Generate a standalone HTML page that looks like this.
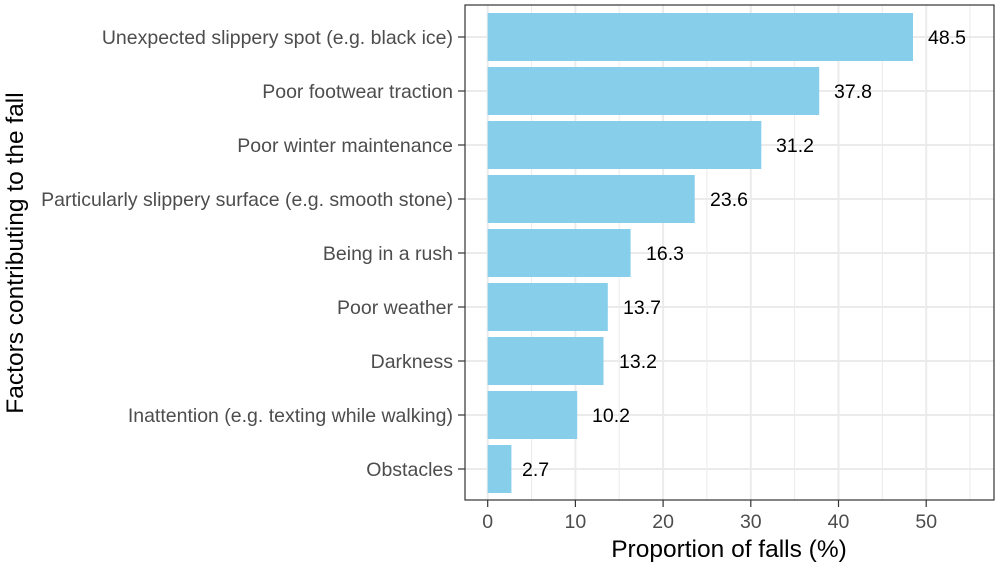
<!DOCTYPE html>
<html><head><meta charset="utf-8"><style>body{margin:0;background:#fff}svg{display:block}</style></head><body>
<svg width="1000" height="562" xmlns="http://www.w3.org/2000/svg" font-family="Liberation Sans, sans-serif">
<rect x="465" y="5" width="529" height="495" fill="#fff"/>
<g stroke="#ebebeb" stroke-width="1">
<line x1="531.5" y1="5" x2="531.5" y2="500"/><line x1="619.2" y1="5" x2="619.2" y2="500"/><line x1="706.9" y1="5" x2="706.9" y2="500"/><line x1="794.6" y1="5" x2="794.6" y2="500"/><line x1="882.3" y1="5" x2="882.3" y2="500"/><line x1="970" y1="5" x2="970" y2="500"/>
</g>
<g stroke="#ebebeb" stroke-width="2">
<line x1="487.7" y1="5" x2="487.7" y2="500"/><line x1="575.4" y1="5" x2="575.4" y2="500"/><line x1="663.1" y1="5" x2="663.1" y2="500"/><line x1="750.8" y1="5" x2="750.8" y2="500"/><line x1="838.5" y1="5" x2="838.5" y2="500"/><line x1="926.2" y1="5" x2="926.2" y2="500"/>
<line x1="465" y1="37" x2="994" y2="37"/><line x1="465" y1="91" x2="994" y2="91"/><line x1="465" y1="145" x2="994" y2="145"/><line x1="465" y1="199" x2="994" y2="199"/><line x1="465" y1="253" x2="994" y2="253"/><line x1="465" y1="307" x2="994" y2="307"/><line x1="465" y1="361" x2="994" y2="361"/><line x1="465" y1="415" x2="994" y2="415"/><line x1="465" y1="469" x2="994" y2="469"/>
</g>
<g fill="#87ceeb">
<rect x="487.7" y="13" width="425.3" height="48"/>
<rect x="487.7" y="67" width="331.5" height="48"/>
<rect x="487.7" y="121" width="273.6" height="48"/>
<rect x="487.7" y="175" width="207.0" height="48"/>
<rect x="487.7" y="229" width="142.9" height="48"/>
<rect x="487.7" y="283" width="120.1" height="48"/>
<rect x="487.7" y="337" width="115.8" height="48"/>
<rect x="487.7" y="391" width="89.5" height="48"/>
<rect x="487.7" y="445" width="23.7" height="48"/>
</g>
<g font-size="19.5" fill="#000">
<text x="928" y="44">48.5</text><text x="834" y="98">37.8</text><text x="776" y="152">31.2</text><text x="710" y="206">23.6</text><text x="646" y="260">16.3</text><text x="623" y="314">13.7</text><text x="619" y="368">13.2</text><text x="592" y="422">10.2</text><text x="522" y="476">2.7</text>
</g>
<rect x="465" y="5" width="529" height="495" fill="none" stroke="#333" stroke-width="1.2"/>
<g stroke="#333" stroke-width="1.2">
<line x1="458" y1="37" x2="465" y2="37"/><line x1="458" y1="91" x2="465" y2="91"/><line x1="458" y1="145" x2="465" y2="145"/><line x1="458" y1="199" x2="465" y2="199"/><line x1="458" y1="253" x2="465" y2="253"/><line x1="458" y1="307" x2="465" y2="307"/><line x1="458" y1="361" x2="465" y2="361"/><line x1="458" y1="415" x2="465" y2="415"/><line x1="458" y1="469" x2="465" y2="469"/>
<line x1="487.7" y1="500" x2="487.7" y2="507"/><line x1="575.4" y1="500" x2="575.4" y2="507"/><line x1="663.1" y1="500" x2="663.1" y2="507"/><line x1="750.8" y1="500" x2="750.8" y2="507"/><line x1="838.5" y1="500" x2="838.5" y2="507"/><line x1="926.2" y1="500" x2="926.2" y2="507"/>
</g>
<g font-size="19.5" fill="#4d4d4d" text-anchor="end">
<text x="453" y="44">Unexpected slippery spot (e.g. black ice)</text>
<text x="453" y="98">Poor footwear traction</text>
<text x="453" y="152">Poor winter maintenance</text>
<text x="453" y="206">Particularly slippery surface (e.g. smooth stone)</text>
<text x="453" y="260">Being in a rush</text>
<text x="453" y="314">Poor weather</text>
<text x="453" y="368">Darkness</text>
<text x="453" y="422">Inattention (e.g. texting while walking)</text>
<text x="453" y="476">Obstacles</text>
</g>
<g font-size="19.5" fill="#4d4d4d" text-anchor="middle">
<text x="487.7" y="528">0</text><text x="575.4" y="528">10</text><text x="663.1" y="528">20</text><text x="750.8" y="528">30</text><text x="838.5" y="528">40</text><text x="926.2" y="528">50</text>
</g>
<text x="729" y="557" font-size="24.5" text-anchor="middle" fill="#000">Proportion of falls (%)</text>
<text transform="translate(23,253) rotate(-90)" font-size="24.5" text-anchor="middle" fill="#000">Factors contributing to the fall</text>
</svg>
</body></html>
